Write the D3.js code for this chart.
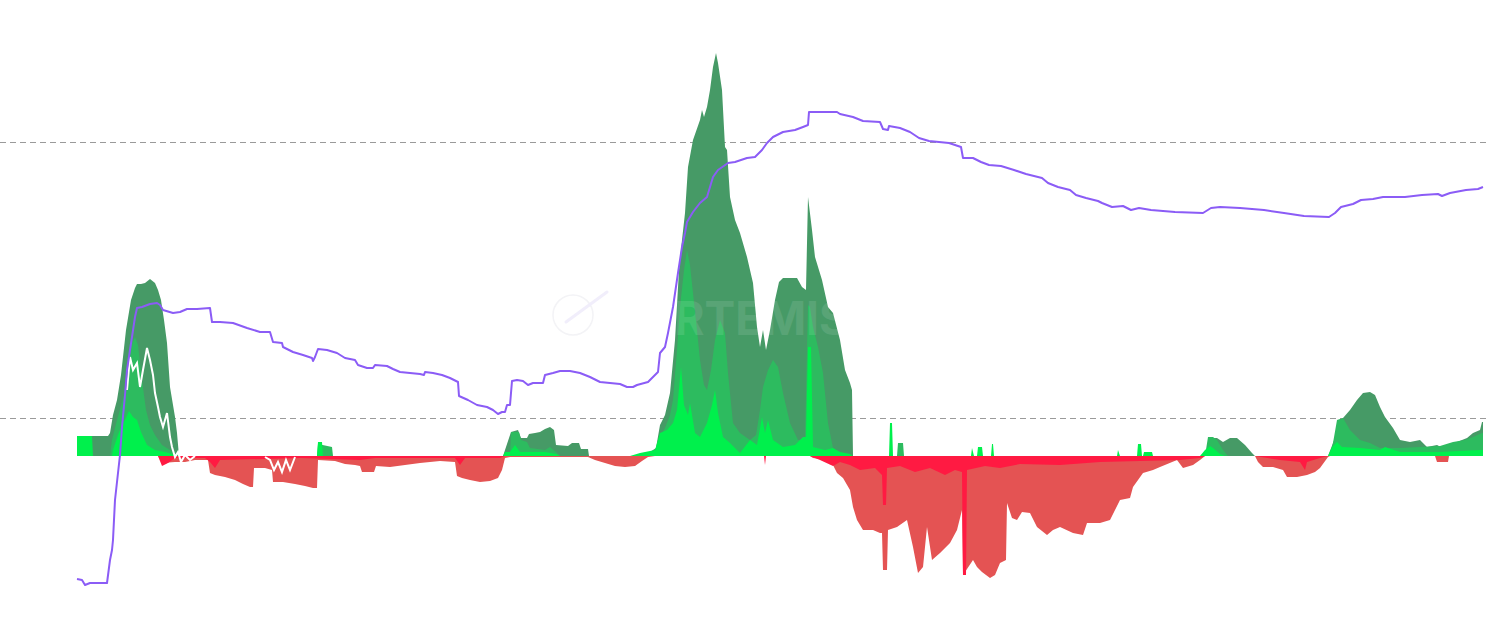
<!DOCTYPE html>
<html>
<head>
<meta charset="utf-8">
<script src="https://cdn.jsdelivr.net/npm/d3@7"></script>
<style>
  html, body { margin: 0; padding: 0; background: #ffffff; }
  svg { display: block; }
</style>
</head>
<body>
<svg id="chart" width="1490" height="633"></svg>
<script>
// ---- Data: [day index, value] ----
const darkGreen = [[0,20],[15.5,20],[16.5,23],[18,41],[20,56],[22,81],[24.5,126],[27,156],[29,168],[30,172],[32,172],[34,173],[36.5,177],[39,173],[40.5,166],[42,156],[43.5,136],[45,113],[46.5,69],[48,51],[49,39],[50,23],[51,0],
 [213,0],[217,24],[220.5,26],[222,18],[225,18],[226,22],[229,23],[231.5,24],[234,27],[236.5,29],[238.5,26],[239.5,11],[245.5,10],[247.5,13],[251,13],[252,7],[255.5,7],[256,0],
 [281.5,0],[286.5,4],[289.5,8],[291.5,31],[294,41],[296.5,63],[299,116],[301,186],[302.5,216],[304,243],[305.5,289],[308,316],[311.5,336],[312.5,346],[313.5,339],[315,349],[316.5,366],[318,389],[319.5,403],[320.5,393],[322.5,366],[324,309],[325,306],[326.5,259],[329,236],[331.5,223],[335,199],[338,173],[340,129],[341.5,109],[343,126],[344.5,106],[346.5,126],[349,156],[351,174],[353,178],[360,178],[362.5,169],[364.5,166],[365.5,259],[367.5,226],[369,199],[372.5,176],[375.5,149],[378,143],[381.5,116],[384,86],[386.5,73],[387.5,66],[388,0],
 [562.5,0],[565.5,8],[567.5,18],[570,18],[573,14],[576.5,18],[580,18],[584,11],[587.5,3],[589,0],
 [625.5,0],[628,13],[630.5,26],[633,38],[636.5,46],[640,56],[643,63],[646.5,64],[649,61],[651.5,49],[654,39],[658,28],[661.5,16],[666.5,14],[671.5,16],[675,9],[680,11],[683,8],[686.5,11],[690,14],[695,18],[698,23],[701.5,26],[702.5,34],[703,34]];

const mediumGreen = [[16.5,0],[17.5,16],[20,36],[23.5,61],[25.5,86],[27,111],[29,119],[30.5,111],[32.5,76],[34.5,46],[36.5,31],[39,21],[42.5,11],[46.5,6],[50,0],
 [120,0],[120.5,12],[127.5,9],[128,0],
 [216.5,0],[217,24],[221,24],[222,16],[225,14],[226.5,8],[234,6],[236.5,9],[239.5,4],[241.5,0],
 [289,0],[291.5,19],[294,28],[296.5,41],[298,56],[300,106],[301.5,149],[303.5,186],[305,206],[306.5,191],[308,163],[310,126],[311.5,96],[313.5,71],[315,66],[317,86],[319,116],[321.5,136],[324,123],[325.5,83],[328,33],[331.5,23],[336.5,16],[339.5,21],[341.5,46],[343,69],[345.5,86],[348,96],[350.5,89],[353,63],[356.5,33],[360.5,16],[364,16],[365.5,151],[366.5,149],[368,129],[370.5,109],[373,83],[375.5,33],[378,8],[379.5,0],
 [410,0],[410.5,13],[413,13],[413.5,0],
 [564,0],[565.5,19],[568,19],[570,16],[573,6],[575.5,0],
 [626.5,0],[628,13],[630,36],[633,38],[636.5,26],[641.5,16],[646.5,13],[651.5,8],[661.5,8],[671.5,9],[681.5,10],[688,14],[694,16],[698,19],[702.5,23],[703,23]];

const brightGreen = [[0,20],[7.5,20],[8,0],[17.5,0],[18,6],[20.5,21],[22.5,31],[24.5,38],[26,45],[28,39],[30,36],[32,24],[35,11],[39,6],[44,4],[49,1],[51.5,0],
 [120,0],[120.5,14],[122.5,14],[123,0],
 [213,0],[214,4],[216.5,4],[219,11],[221.5,4],[234,4],[239.5,2],[241.5,0],
 [276.5,0],[281.5,3],[289,6],[291.5,23],[295,26],[298,33],[300,46],[302,89],[303.5,51],[305.5,41],[306.5,53],[309,23],[311.5,19],[315,33],[317.5,51],[319,66],[320.5,43],[323,19],[326.5,13],[331.5,3],[336.5,16],[340,11],[342.5,39],[344,23],[345.5,36],[348,16],[353,9],[359,11],[363,19],[364.5,19],[365.5,109],[367,109],[368,9],[374,6],[378,8],[381.5,4],[386.5,2],[388,0],
 [406,0],[406.5,33],[407.5,33],[408,0],
 [447,0],[447.5,8],[448.5,0],[450,0],[450.5,9],[452.5,9],[453,0],[457,0],[457.5,12],[458,12],[458.5,0],
 [520,0],[520.5,6],[521.5,0],[530,0],[530.5,12],[532,12],[532.5,0],[533,0],[533.5,4],[537.5,4],[538,0],
 [561.5,0],[564,6],[566.5,10],[568,8],[571.5,2],[574,0],
 [625.5,0],[627.5,9],[630,14],[632.5,9],[641.5,8],[651.5,6],[654,9],[661.5,4],[681.5,4],[701.5,6],[703,6]];

const redLight = [[40.5,0],[42.5,-7],[49,-6],[54,-6],[59,-4],[65.5,-4],[66.5,-17],[69,-19],[74,-21],[79,-24],[83,-28],[86.5,-31],[88,-31],[88.5,-12],[94,-12],[97.5,-14],[98,-26],[103,-26],[109,-28],[114,-30],[118,-32],[120,-32],[120.5,-4],[129,-5],[134,-8],[139,-9],[141.5,-10],[142.5,-16],[148.5,-16],[149.5,-10],[156.5,-11],[164,-9],[171.5,-7],[176.5,-6],[181.5,-5],[189,-6],[190,-20],[192.5,-22],[196.5,-24],[201.5,-26],[206.5,-25],[210.5,-22],[212.5,-14],[214,-2],[216.5,-1],[241.5,-1],[255.5,-1],[259,-4],[264,-7],[269,-10],[274,-11],[279,-10],[282.5,-5],[285.5,-1],[289,0],
 [366.5,0],[368,-2],[375,-4],[378,-9],[380,-17],[383,-22],[386.5,-34],[388,-51],[390,-64],[393,-74],[398,-74],[401.5,-77],[402.5,-77],[403,-114],[405,-114],[405.5,-74],[410,-71],[415,-64],[418,-91],[420.5,-117],[423,-111],[425,-71],[427.5,-104],[431.5,-97],[436.5,-87],[440,-74],[442.5,-54],[443,-119],[448,-104],[450,-111],[452.5,-116],[456.5,-122],[459,-119],[461.5,-107],[464.5,-104],[465,-47],[467.5,-62],[470,-64],[472.5,-56],[476.5,-57],[480,-71],[485,-79],[488,-74],[491.5,-71],[498,-77],[503,-79],[505,-67],[511.5,-67],[516.5,-64],[519,-54],[521.5,-44],[526.5,-42],[528,-31],[533,-17],[538,-14],[541.5,-11],[550,-4],[553,-12],[558,-9],[561.5,-4],[564,0],
 [589,0],[590.5,-6],[593,-11],[598,-11],[603,-14],[605,-21],[610,-21],[615,-19],[619,-16],[621.5,-12],[625.5,-1],[626.5,0],
 [679,0],[680,-6],[685.5,-6],[686,0],[703,0]];

const redBright = [[40.5,0],[42.5,-10],[45.5,-7],[49,-2],[64,-2],[66.5,-6],[69,-12],[71.5,-4],[111.5,-2],[141.5,-4],[149,-2],[189,-2],[191.5,-9],[194,-2],[211.5,-2],[214,0],
 [343.5,0],[344,-9],[344.5,0],
 [366.5,0],[371.5,-4],[378,-10],[381.5,-6],[386.5,-9],[391.5,-14],[399,-12],[402.5,-19],[403,-49],[404.5,-49],[405,-12],[411.5,-10],[419,-16],[426.5,-12],[434,-19],[439,-14],[442.5,-16],[443,-119],[444.5,-119],[445,-14],[454,-10],[461.5,-12],[471.5,-8],[491.5,-9],[511.5,-6],[531.5,-5],[551.5,-4],[561.5,-2],[564,0],
 [589,0],[601.5,-4],[611.5,-6],[614,-14],[615,-6],[621.5,-2],[625.5,0],[703,0]];

const whiteLine = [[25,66],[26.5,99],[28,86],[30,93],[31.5,69],[33,86],[35,108],[36.5,96],[38,81],[39,63],[40.5,49],[41.5,39],[43,29],[45,43],[46.5,19],[47.5,9],[49,-1],[50.5,4],[52,-6],[54,1],[56.5,-4],[59,0],
 [59.5,null],
 [94,-1],[96.5,-4],[98.5,-14],[100.5,-6],[102.5,-16],[104.5,-4],[106.5,-14],[109,-1]];

const purpleLine = [[0,121],[2.5,120],[4,115],[6.5,117],[15,117],[16.5,140],[17.5,150],[18,160],[19,200],[20.5,227],[21.5,245],[22.5,273],[24,305],[25,330],[26.5,350],[27.5,363],[29,383],[30,392],[32.5,393],[36.5,396],[40,397],[41.5,395],[43,390],[48,387],[51.5,388],[55,391],[60,391],[66.5,392],[67.5,378],[71.5,378],[78,377],[85,372],[91.5,368],[96.5,368],[98,358],[102.5,357],[103,353],[108,348],[113,345],[117.5,342],[118,339],[119,343],[120.5,351],[125,350],[130,347],[134,342],[139,340],[140.5,335],[145,332],[148,332],[149,335],[155,334],[158,331],[161.5,328],[166.5,327],[171.5,326],[173.5,325],[174,328],[178,327],[182.5,325],[186.5,322],[190.5,318],[191,304],[195.5,300],[200,295],[205,293],[208,290],[210.5,286],[212.5,288],[214,288],[215,295],[216.5,295],[217.5,319],[220,320],[223,319],[225.5,315],[228,317],[233,317],[234,325],[238,327],[241.5,329],[246.5,329],[251.5,327],[256.5,323],[261.5,318],[266.5,317],[271.5,316],[275,313],[278,313],[280,315],[285.5,318],[288,323],[290.5,328],[291.5,347],[294,353],[295.5,367],[298,393],[300.5,427],[302.5,453],[304,467],[305,478],[308,488],[311.5,497],[315,503],[316.5,513],[318,523],[320.5,530],[325.5,537],[329,538],[335,542],[339,543],[342.5,550],[345,557],[348,563],[353,568],[359,570],[363,573],[365.5,575],[366,588],[375,588],[380,588],[381.5,586],[388,583],[393,579],[401.5,578],[403,571],[405.5,570],[406,574],[411.5,572],[416.5,568],[421,562],[426,559],[436,557],[442,553],[443,542],[448,542],[452,538],[456,535],[462,534],[468.5,530],[474.5,526],[482.5,522],[485.5,517],[490.5,513],[496.5,510],[499.5,505],[504.5,502],[510.5,499],[512.5,497],[517.5,493],[523,494],[527,490],[531,492],[537,490],[549,488],[563,487],[567,492],[571.5,493],[581.5,492],[593.5,490],[603.5,487],[613.5,484],[626,483],[629,487],[632,493],[638,496],[642,500],[648,501],[653,503],[664,503],[672.5,505],[680.5,506],[682.5,504],[686.5,507],[694.5,510],[700.5,511],[703,513]];

const dayDomain = [0, 703];
const flowDomain = [-244, 456];
const priceDomain = [0, 700];
const gridTicks = [282, 558];

// ---- Drawing ----
const svg = d3.select("#chart");
const W = 1490, H = 633;

const x = d3.scaleLinear().domain(dayDomain).range([77, 1483]);
const yL = d3.scaleLinear().domain(flowDomain).range([700, 0]);
const yR = d3.scaleLinear().domain(priceDomain).range([700, 0]);

// gridlines (from right axis ticks)
const gridAxis = d3.axisRight(yR).tickValues(gridTicks).tickSize(W).tickFormat("");
const g = svg.append("g").attr("class", "grid").call(gridAxis);
g.select(".domain").remove();
g.selectAll("line").attr("stroke", "#9a9a9a").attr("stroke-width", 1).attr("stroke-dasharray", "6,4");

const area = d3.area()
  .x(d => x(d[0]))
  .y0(yL(0))
  .y1(d => yL(d[1]));

const layers = [
  { data: darkGreen, color: "#469a66" },
  { data: mediumGreen, color: "#2dbb5f" },
  { data: brightGreen, color: "#00f04c" },
  { data: redLight, color: "#e45353" },
  { data: redBright, color: "#ff1a42" }
];
layers.forEach(l => {
  svg.append("path").datum(l.data).attr("d", area).attr("fill", l.color);
});

// watermark (very faint)
const wm = svg.append("g").attr("class", "watermark");
wm.append("circle").attr("cx", 573).attr("cy", 315).attr("r", 20)
  .attr("fill", "none").attr("stroke", "#f3f3f6").attr("stroke-width", 1.5);
wm.append("line").attr("x1", 566).attr("y1", 322).attr("x2", 607).attr("y2", 292)
  .attr("stroke", "#f1eefb").attr("stroke-width", 3).attr("stroke-linecap", "round");
wm.append("text").attr("x", 640).attr("y", 335)
  .attr("font-family", "Inter, 'Liberation Sans', sans-serif").attr("font-weight", 700)
  .attr("font-size", 46).attr("fill", "#ffffff").attr("opacity", 0.1)
  .text("ARTEMIS");

// white line
const lineL = d3.line().defined(d => d[1] !== null).x(d => x(d[0])).y(d => yL(d[1]));
svg.append("path").datum(whiteLine).attr("d", lineL)
  .attr("fill", "none").attr("stroke", "#ffffff").attr("stroke-width", 2);

// purple line
const lineR = d3.line().x(d => x(d[0])).y(d => yR(d[1]));
svg.append("path").datum(purpleLine).attr("d", lineR)
  .attr("fill", "none").attr("stroke", "#8b5cf6").attr("stroke-width", 2).attr("stroke-linejoin", "round");
</script>
</body>
</html>
